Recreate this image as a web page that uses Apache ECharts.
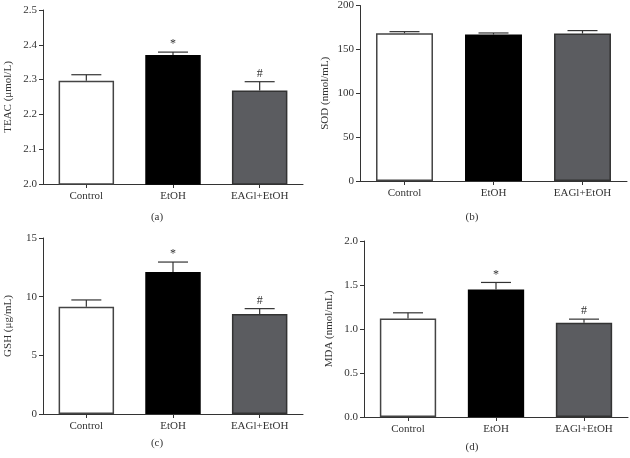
<!DOCTYPE html>
<html>
<head>
<meta charset="utf-8">
<script src="https://cdn.jsdelivr.net/npm/echarts@6/dist/echarts.min.js"></script>
<style>html,body{margin:0;padding:0;background:#fff}#c{width:630px;height:458px}</style>
</head>
<body>
<div id="c"></div>
<script>
var categories = ['Control', 'EtOH', 'EAGl+EtOH'];
var marks = ['', '*', '#'];

var teacMean = [2.297, 2.371, 2.269];
var teacErr = [0.017, 0.008, 0.025];
var sodMean = [168.4, 166.9, 168.0];
var sodErr = [1.8, 1.8, 3.4];
var gshMean = [9.15, 12.10, 8.52];
var gshErr = [0.57, 0.85, 0.46];
var mdaMean = [1.12, 1.45, 1.07];
var mdaErr = [0.064, 0.079, 0.042];

var panels = [
  {mean: teacMean, err: teacErr, name: 'TEAC (\u03bcmol/L)', min: 2.0, max: 2.5, interval: 0.1, dec: 1, tag: '(a)', showMarks: true},
  {mean: sodMean, err: sodErr, name: 'SOD (nmol/mL)', min: 0, max: 200, interval: 50, dec: 0, tag: '(b)', showMarks: false},
  {mean: gshMean, err: gshErr, name: 'GSH (\u03bcg/mL)', min: 0, max: 15, interval: 5, dec: 0, tag: '(c)', showMarks: true},
  {mean: mdaMean, err: mdaErr, name: 'MDA (nmol/mL)', min: 0, max: 2.0, interval: 0.5, dec: 1, tag: '(d)', showMarks: true}
];

var grids = [
  {left: 43, top: 10, width: 260, height: 174},
  {left: 360, top: 4, width: 267, height: 177},
  {left: 43, top: 238, width: 260, height: 176},
  {left: 364, top: 241, width: 264, height: 176}
];
var tagPos = [[157, 212], [472, 212], [157, 438], [472, 442]];

var FONT = 'Liberation Serif';
var fills = ['#ffffff', '#000000', '#5b5c60'];
var borders = ['#444444', '#000000', '#333333'];

var option = {
  animation: false,
  backgroundColor: '#fff',
  grid: grids.map(function (g) { return Object.assign({containLabel: false}, g); }),
  title: panels.map(function (p, i) {
    return {text: p.tag, left: tagPos[i][0], top: tagPos[i][1], textAlign: 'center', padding: 0,
      textStyle: {fontFamily: FONT, fontSize: 11, fontWeight: 'normal', color: '#333'}};
  }),
  xAxis: panels.map(function (p, i) {
    return {
      type: 'category', gridIndex: i, data: categories,
      axisLine: {lineStyle: {color: '#333', width: 1}},
      axisTick: {show: true, alignWithLabel: true, length: 4, lineStyle: {color: '#333'}},
      axisLabel: {fontFamily: FONT, fontSize: 11, color: '#333', margin: 7}
    };
  }),
  yAxis: panels.map(function (p, i) {
    return {
      type: 'value', gridIndex: i, min: p.min, max: p.max, interval: p.interval,
      name: p.name, nameLocation: 'middle', nameGap: 29, nameRotate: 90,
      nameTextStyle: {fontFamily: FONT, fontSize: 11, color: '#333'},
      splitLine: {show: false},
      axisLine: {show: true, lineStyle: {color: '#333', width: 1}},
      axisTick: {show: true, length: 4, lineStyle: {color: '#333'}},
      axisLabel: {fontFamily: FONT, fontSize: 11, color: '#333', margin: 6,
        formatter: (function (d) { return function (v) { return v.toFixed(d); }; })(p.dec)}
    };
  }),
  series: []
};

panels.forEach(function (p, i) {
  option.series.push({
    type: 'bar', xAxisIndex: i, yAxisIndex: i, barWidth: '64%',
    data: p.mean.map(function (v, k) {
      return {value: v, itemStyle: {color: fills[k], borderColor: borders[k], borderWidth: 1.5}};
    })
  });
  option.series.push({
    type: 'custom', xAxisIndex: i, yAxisIndex: i, z: 5,
    data: p.mean.map(function (v, k) { return [k, v, v + p.err[k], p.showMarks ? marks[k] : '']; }),
    renderItem: function (params, api) {
      var base = api.coord([api.value(0), api.value(1)]);
      var top = api.coord([api.value(0), api.value(2)]);
      var mk = api.value(3);
      var half = 15;
      var children = [
        {type: 'line', shape: {x1: base[0], y1: base[1], x2: top[0], y2: top[1]}, style: {stroke: '#333', lineWidth: 1.2}},
        {type: 'line', shape: {x1: top[0] - half, y1: top[1], x2: top[0] + half, y2: top[1]}, style: {stroke: '#333', lineWidth: 1.2}}
      ];
      if (mk) {
        children.push({type: 'text', style: {text: mk, x: top[0], y: top[1] - 2, align: 'center', verticalAlign: 'bottom',
          font: '12px "Liberation Serif"', fill: '#333'}});
      }
      return {type: 'group', children: children};
    }
  });
});

var chart = echarts.init(document.getElementById('c'), null, {renderer: 'canvas'});
chart.setOption(option);
</script>
</body>
</html>
